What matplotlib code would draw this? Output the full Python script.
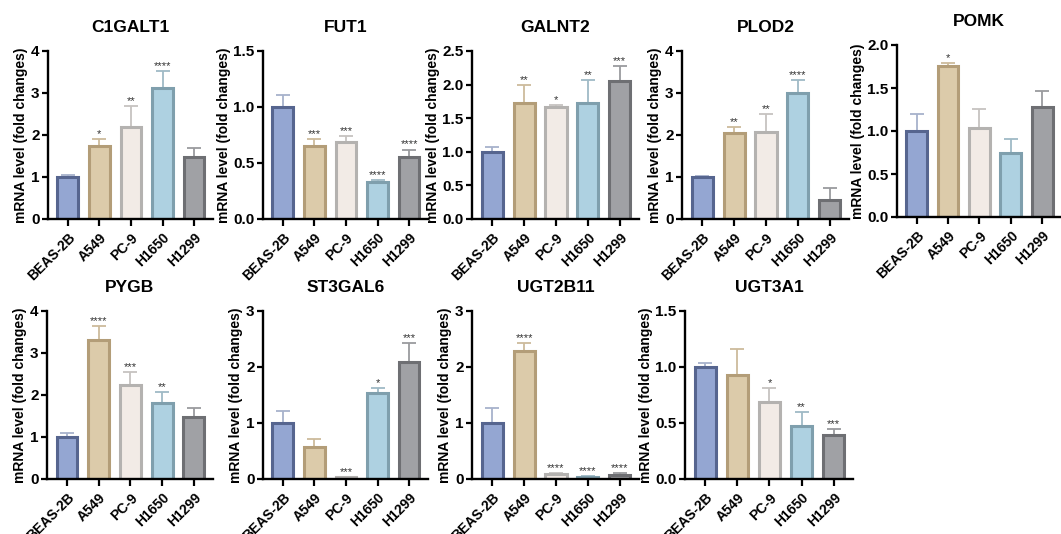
import matplotlib
matplotlib.use("Agg")
import matplotlib.pyplot as plt
import numpy as np

plt.rcParams['font.family'] = ['Liberation Sans', 'DejaVu Sans']
plt.rcParams['font.weight'] = 'bold'

cells = ['BEAS-2B', 'A549', 'PC-9', 'H1650', 'H1299']
fill_colors = ['#94a6d2', '#dccbaa', '#f2ebe6', '#aed1e1', '#a0a1a5']
edge_colors = ['#56658f', '#b39d78', '#b4b2b0', '#7f9fad', '#6e6f73']
err_colors = ['#a7b2cc', '#cdbb9c', '#c6c3c0', '#9fbac6', '#9a9b9e']

genes = ['C1GALT1', 'FUT1', 'GALNT2', 'PLOD2', 'POMK',
         'PYGB', 'ST3GAL6', 'UGT2B11', 'UGT3A1']

# mean values
means = {
    'C1GALT1': [1.0, 1.75, 2.2, 3.12, 1.47],
    'FUT1': [1.0, 0.65, 0.69, 0.33, 0.55],
    'GALNT2': [1.0, 1.73, 1.67, 1.73, 2.05],
    'PLOD2': [1.0, 2.05, 2.07, 3.0, 0.45],
    'POMK': [1.0, 1.76, 1.04, 0.75, 1.28],
    'PYGB': [1.0, 3.3, 2.25, 1.82, 1.47],
    'ST3GAL6': [1.0, 0.57, 0.03, 1.53, 2.09],
    'UGT2B11': [1.0, 2.28, 0.09, 0.04, 0.08],
    'UGT3A1': [1.0, 0.93, 0.69, 0.47, 0.39],
}
# upper error (SD)
errors = {
    'C1GALT1': [0.05, 0.15, 0.5, 0.41, 0.21],
    'FUT1': [0.11, 0.06, 0.05, 0.02, 0.07],
    'GALNT2': [0.07, 0.27, 0.03, 0.34, 0.23],
    'PLOD2': [0.02, 0.15, 0.43, 0.3, 0.28],
    'POMK': [0.2, 0.03, 0.22, 0.16, 0.18],
    'PYGB': [0.1, 0.34, 0.29, 0.26, 0.23],
    'ST3GAL6': [0.21, 0.15, 0.01, 0.1, 0.33],
    'UGT2B11': [0.26, 0.14, 0.01, 0.01, 0.02],
    'UGT3A1': [0.04, 0.23, 0.12, 0.13, 0.06],
}
stars = {
    'C1GALT1': ['', '*', '**', '****', ''],
    'FUT1': ['', '***', '***', '****', '****'],
    'GALNT2': ['', '**', '*', '**', '***'],
    'PLOD2': ['', '**', '**', '****', ''],
    'POMK': ['', '*', '', '', ''],
    'PYGB': ['', '****', '***', '**', ''],
    'ST3GAL6': ['', '', '***', '*', '***'],
    'UGT2B11': ['', '****', '****', '****', '****'],
    'UGT3A1': ['', '', '*', '**', '***'],
}
ymax = {'C1GALT1': 4, 'FUT1': 1.5, 'GALNT2': 2.5, 'PLOD2': 4, 'POMK': 2.0,
        'PYGB': 4, 'ST3GAL6': 3, 'UGT2B11': 3, 'UGT3A1': 1.5}
ysteps = {'C1GALT1': 1, 'FUT1': 0.5, 'GALNT2': 0.5, 'PLOD2': 1, 'POMK': 0.5,
          'PYGB': 1, 'ST3GAL6': 1, 'UGT2B11': 1, 'UGT3A1': 0.5}

W, H = 1061, 534
fig = plt.figure(figsize=(W / 100, H / 100), dpi=100)

# axes boxes in pixels: left, top, right, bottom
boxes = [
    (48, 51, 213, 219), (263, 51, 428, 219), (472, 51, 639, 219),
    (682, 51, 849, 219), (897, 45, 1061, 217),
    (47, 311, 213, 479), (263, 311, 428, 479), (472, 311, 639, 479),
    (685, 311, 853, 479),
]

x = np.arange(len(cells))
for g, (l, t, r, b) in zip(genes, boxes):
    ax = fig.add_axes([l / W, 1 - b / H, (r - l) / W, (b - t) / H])
    m = means[g]
    e = errors[g]
    for i in range(len(cells)):
        ax.errorbar(x[i], m[i], yerr=[[0], [e[i]]], fmt='none',
                    ecolor=err_colors[i], elinewidth=1.3, capsize=5,
                    capthick=1.3, zorder=1)
        ax.bar(x[i], m[i], width=0.66, color=fill_colors[i],
               edgecolor=edge_colors[i], linewidth=2.2, zorder=2)
        if stars[g][i]:
            ax.text(x[i], m[i] + e[i], stars[g][i], ha='center', va='bottom',
                    fontsize=8, color='#333333', fontweight='normal')
    ax.set_xlim(-0.63, 4.6)
    ax.set_ylim(0, ymax[g])
    ticks = np.arange(0, ymax[g] + 1e-9, ysteps[g])
    ax.set_yticks(ticks)
    if ysteps[g] < 1:
        ax.set_yticklabels([f'{v:.1f}' for v in ticks])
    else:
        ax.set_yticklabels([f'{int(v)}' for v in ticks])
    ax.set_xticks(x)
    ax.set_xticklabels(cells, rotation=45, ha='right', rotation_mode='anchor',
                       fontsize=10, fontweight='bold')
    ax.tick_params(axis='y', labelsize=11, width=1.6, length=4, pad=2)
    ax.tick_params(axis='x', width=1.6, length=5)
    for s in ['top', 'right']:
        ax.spines[s].set_visible(False)
    for s in ['left', 'bottom']:
        ax.spines[s].set_linewidth(1.7)
    ax.set_ylabel('mRNA level (fold changes)', fontsize=10, fontweight='bold',
                  labelpad=2)
    ax.set_title(g, fontsize=12.5, fontweight='bold', pad=14)

fig.savefig('out.png', dpi=100)
